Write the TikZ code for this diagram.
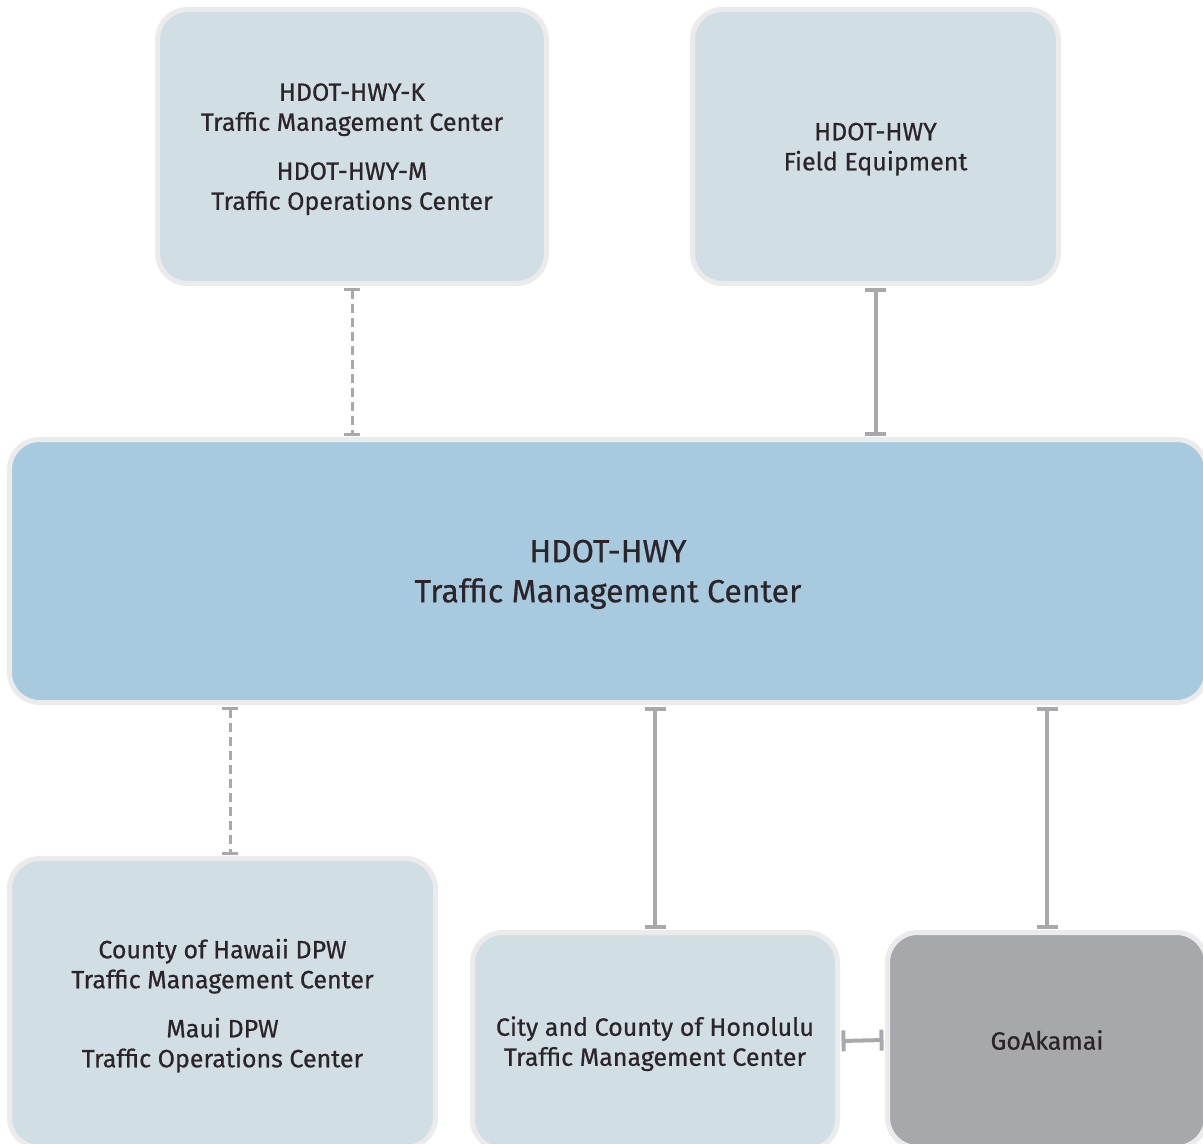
\documentclass[tikz,border=0pt]{standalone}
\usepackage{fontspec}
\setmainfont{Fira Sans}[FakeBold=0.6]
\usetikzlibrary{arrows.meta}
\definecolor{lightbox}{HTML}{D1DFE5}
\definecolor{mainbox}{HTML}{A8CADF}
\definecolor{graybox}{HTML}{A7A8AC}
\definecolor{rim}{HTML}{EBEBEB}
\definecolor{conn}{HTML}{A9A9AD}
\definecolor{ink}{HTML}{2B2429}
\newcommand\lastln[1]{\raisebox{0pt}[\height][0pt]{#1}}
\tikzset{
  box/.style={draw=rim, line width=5pt, rounded corners=30pt, inner sep=0pt,
    align=center, text=ink, font=\fontsize{25}{30}\selectfont},
  solidconn/.style={draw=conn, line width=4pt, {Bar[width=21pt]}-{Bar[width=21pt]}, shorten <=1.5pt, shorten >=1.5pt},
  dashconn/.style={draw=conn, line width=3pt, dash pattern=on 9pt off 5pt, {Bar[width=16pt]}-{Bar[width=16pt]}, shorten <=1.5pt, shorten >=1.5pt},
}
\begin{document}
\begin{tikzpicture}[x=1pt,y=-1pt]
\useasboundingbox (0,0) rectangle (1203,1144);
\clip (0,0) rectangle (1203,1144);
\node[box, fill=lightbox, minimum width=389pt, minimum height=274pt] (A) at (352,146.5)
  {HDOT-HWY-K\\Traffic Management Center\\[19pt]HDOT-HWY-M\\\lastln{Traffic Operations Center}};
\node[box, fill=lightbox, minimum width=366pt, minimum height=274pt] (B) at (875.5,146.5)
  {HDOT-HWY\\\lastln{Field Equipment}};
\node[box, fill=mainbox, minimum width=1197pt, minimum height=263pt,
  font=\fontsize{32}{40}\selectfont] (C) at (608,571)
  {HDOT-HWY\\\lastln{Traffic Management Center}};
\node[box, fill=lightbox, minimum width=426pt, minimum height=289pt] (BL) at (222.5,1003)
  {County of Hawaii DPW\\Traffic Management Center\\[19pt]Maui DPW\\\lastln{Traffic Operations Center}};
\node[box, fill=lightbox, minimum width=365pt, minimum height=217pt] (BM) at (655,1041)
  {City and County of Honolulu\\\lastln{Traffic Management Center}};
\node[box, fill=graybox, minimum width=319pt, minimum height=215pt] (GA) at (1047,1040)
  {GoAkamai};
\path[dashconn] (A.south) -- (A.south |- C.north);
\path[solidconn] (B.south) -- (B.south |- C.north);
\path[dashconn] ([xshift=7.5pt]BL.north |- C.south) -- ([xshift=7.5pt]BL.north);
\path[solidconn] (BM.north |- C.south) -- (BM.north);
\path[solidconn] (GA.north |- C.south) -- (GA.north);
\path[solidconn] (BM.east) -- (GA.west);
\end{tikzpicture}
\end{document}
